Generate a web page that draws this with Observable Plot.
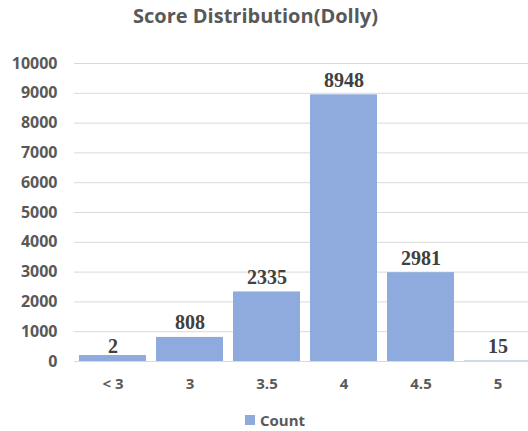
<!DOCTYPE html>
<html>
<head>
<meta charset="utf-8">
<script src="https://cdn.jsdelivr.net/npm/d3@7"></script>
<script src="https://cdn.jsdelivr.net/npm/@observablehq/plot@0.6"></script>
<style>
  html, body { margin: 0; padding: 0; background: #fff; overflow: hidden; }
  #wrap { position: relative; width: 528px; height: 431px; }
  #title { position: absolute; left: 0; width: 511px; top: 2px; text-align: center;
    font-family: "Open Sans", sans-serif; font-weight: 700; font-size: 20px; color: #595959; }
  #legend { position: absolute; left: 245px; top: 410px; display: flex; align-items: center;
    font-family: "Open Sans", sans-serif; font-weight: 700; font-size: 15px; color: #595959; }
  #legend .sw { width: 10px; height: 10px; background: #8FAADC; margin-right: 5px; }
</style>
</head>
<body>
<div id="wrap">
  <div id="chart"></div>
  <div id="title">Score Distribution(Dolly)</div>
  <div id="legend"><span class="sw"></span><span>Count</span></div>
</div>
<script>
const categories = ["< 3", "3", "3.5", "4", "4.5", "5"];
const counts = [2, 808, 2335, 8948, 2981, 15];
const barHeights = [200, 808, 2335, 8948, 2981, 15];
const yTicks = [0, 1000, 2000, 3000, 4000, 5000, 6000, 7000, 8000, 9000, 10000];

const data = categories.map((c, i) => ({cat: c, count: counts[i], bar: barHeights[i]}));

const chart = Plot.plot({
  width: 528,
  height: 431,
  marginTop: 63,
  marginBottom: 70,
  marginLeft: 74,
  marginRight: 0,
  style: {fontFamily: "Open Sans, sans-serif", fontWeight: "700", fontSize: "15px", color: "#595959", background: "transparent", overflow: "hidden"},
  x: {domain: categories, range: [74, 536], paddingInner: 0.13, paddingOuter: 0.065, label: null, axis: null},
  y: {domain: [0, 10000], ticks: yTicks, label: null},
  marks: [
    Plot.gridY(yTicks, {stroke: "#D9D9D9", strokeOpacity: 1, strokeWidth: 1}),
    Plot.barY(data, {x: "cat", y: "bar", fill: "#8FAADC"}),
    Plot.axisY(yTicks, {tickSize: 0, tickPadding: 17, tickFormat: d => String(d)}),
    Plot.text(categories, {x: d => d, frameAnchor: "bottom", lineAnchor: "top", dy: 17,
      fontFamily: "Open Sans, sans-serif", fontWeight: 700, fontSize: 15, fill: "#595959"}),
    Plot.text(data, {x: "cat", y: "count", text: d => String(d.count), lineAnchor: "bottom", dy: -8,
      fontFamily: "Liberation Serif, serif", fontWeight: 700, fontSize: 20, fill: "#404040"})
  ]
});
document.getElementById("chart").appendChild(chart);
d3.select(chart).selectAll('g[aria-label^="y-axis"] text')
  .style("font-size", "16px").style("font-weight", "700").style("fill", "#595959");
</script>
</body>
</html>
